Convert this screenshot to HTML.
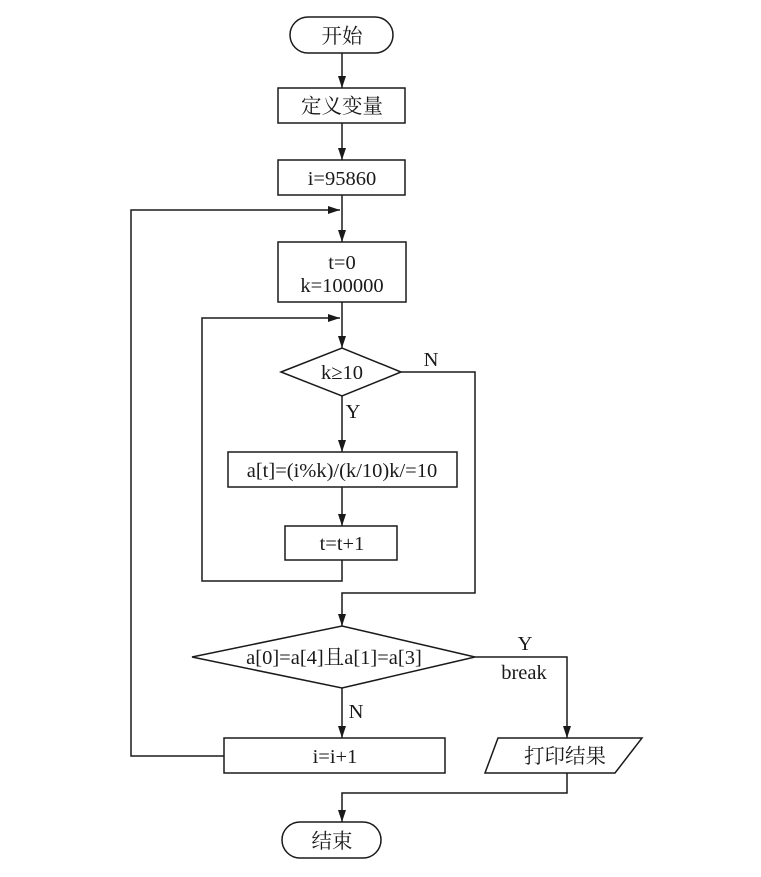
<!DOCTYPE html>
<html><head><meta charset="utf-8"><style>
body{margin:0;background:#fff;}
svg text{font-family:"Liberation Serif","Noto Serif CJK SC","Noto Sans CJK SC",serif;font-size:20.5px;fill:#1a1a1a;}
</style></head><body>
<svg width="761" height="872" viewBox="0 0 761 872" xmlns="http://www.w3.org/2000/svg">
<defs><marker id="a" markerWidth="12" markerHeight="10" refX="12" refY="5" orient="auto" markerUnits="userSpaceOnUse"><path d="M0,1 L12,5 L0,9 Z" fill="#1a1a1a"/></marker></defs>
<g stroke="#1a1a1a" stroke-width="1.5" fill="none">
<rect x="290" y="17" width="103" height="36" rx="18"/>
<line x1="342" y1="53" x2="342" y2="88" marker-end="url(#a)"/>
<rect x="278" y="88" width="127" height="35"/>
<line x1="342" y1="123" x2="342" y2="160" marker-end="url(#a)"/>
<rect x="278" y="160" width="127" height="35"/>
<line x1="342" y1="195" x2="342" y2="242" marker-end="url(#a)"/>
<polyline points="224,756 131,756 131,210 340,210" marker-end="url(#a)"/>
<rect x="278" y="242" width="128" height="60"/>
<line x1="342" y1="302" x2="342" y2="348" marker-end="url(#a)"/>
<polyline points="342,560 342,581 202,581 202,318 340,318" marker-end="url(#a)"/>
<polygon points="281,372 342,348 401,372 342,396"/>
<line x1="342" y1="396" x2="342" y2="452" marker-end="url(#a)"/>
<rect x="228" y="452" width="229" height="35"/>
<line x1="342" y1="487" x2="342" y2="526" marker-end="url(#a)"/>
<rect x="285" y="526" width="112" height="34"/>
<polyline points="401,372 475,372 475,593 342,593 342,626" marker-end="url(#a)"/>
<polygon points="192,657 342,626 475,657 342,688"/>
<line x1="342" y1="688" x2="342" y2="738" marker-end="url(#a)"/>
<rect x="224" y="738" width="221" height="35"/>
<polyline points="475,657 567,657 567,738" marker-end="url(#a)"/>
<polygon points="498,738 642,738 615,773 485,773"/>
<polyline points="567,773 567,793 342,793 342,822" marker-end="url(#a)"/>
<rect x="282" y="822" width="99" height="36" rx="18"/>
</g>
<g text-anchor="middle">
<text x="342" y="43">开始</text>
<text x="342" y="113">定义变量</text>
<text x="342" y="185">i=95860</text>
<text x="342" y="269">t=0</text>
<text x="342" y="292">k=100000</text>
<text x="342" y="379">k≥10</text>
<text x="342" y="477">a[t]=(i%k)/(k/10)k/=10</text>
<text x="342" y="550">t=t+1</text>
<text x="334" y="664">a[0]=a[4]且a[1]=a[3]</text>
<text x="335" y="763">i=i+1</text>
<text x="565" y="763">打印结果</text>
<text x="332" y="848">结束</text>
<text x="431" y="366">N</text>
<text x="353" y="418">Y</text>
<text x="525" y="650">Y</text>
<text x="524" y="679">break</text>
<text x="356" y="718">N</text>
</g>
</svg>
</body></html>
